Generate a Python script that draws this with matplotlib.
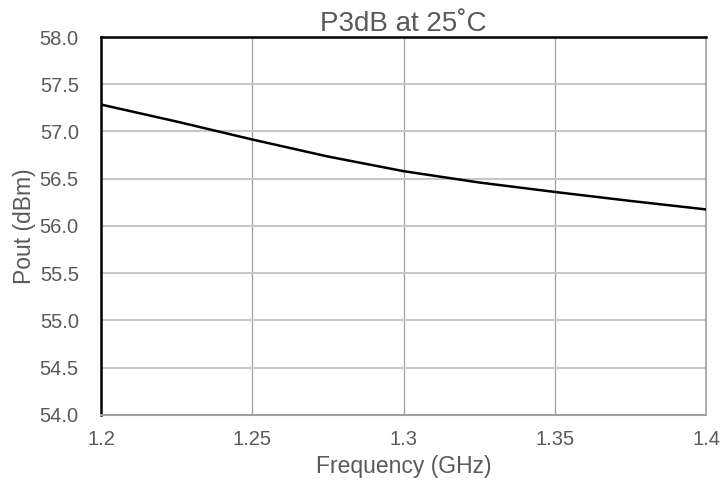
import numpy as np
import matplotlib.pyplot as plt

plt.rcParams['font.family'] = ['Liberation Sans', 'DejaVu Sans']

freq = [1.2, 1.225, 1.25, 1.275, 1.3, 1.325, 1.35, 1.375, 1.4]
pout = [57.285, 57.105, 56.915, 56.735, 56.58, 56.46, 56.36, 56.265, 56.175]

xticks = [1.2, 1.25, 1.3, 1.35, 1.4]
xlabels = ['1.2', '1.25', '1.3', '1.35', '1.4']
yticks = np.arange(54.0, 58.01, 0.5)

grey = '#595959'

fig = plt.figure(figsize=(7.22, 4.87), dpi=100)
ax = fig.add_axes([0.140, 0.148, 0.838, 0.776])

ax.plot(freq, pout, color='black', lw=1.8, zorder=3)

ax.set_xlim(1.2, 1.4)
ax.set_ylim(54, 58)
ax.set_xticks(xticks)
ax.set_xticklabels(xlabels)
ax.set_yticks(yticks)
ax.set_yticklabels(['%.1f' % v for v in yticks])

ax.grid(axis='y', color='#c8c8c8', lw=1.5)
ax.grid(axis='x', color='#a0a0a0', lw=0.9)
ax.tick_params(length=0, labelsize=14.5, colors=grey)
ax.tick_params(axis='y', pad=16)
ax.tick_params(axis='x', pad=11)

ax.spines['left'].set_color('black')
ax.spines['left'].set_linewidth(1.8)
ax.spines['top'].set_color('black')
ax.spines['top'].set_linewidth(1.8)
ax.spines['right'].set_color('#a0a0a0')
ax.spines['right'].set_linewidth(1.2)
ax.spines['bottom'].set_color('#a0a0a0')
ax.spines['bottom'].set_linewidth(1.5)

ax.set_xlabel('Frequency (GHz)', fontsize=16.5, color=grey, labelpad=4)
ax.set_ylabel('Pout (dBm)', fontsize=16.5, color=grey, labelpad=3)
ax.set_title('P3dB at 25˚C', fontsize=20, color=grey, pad=2)

fig.savefig('out.png', dpi=100)
